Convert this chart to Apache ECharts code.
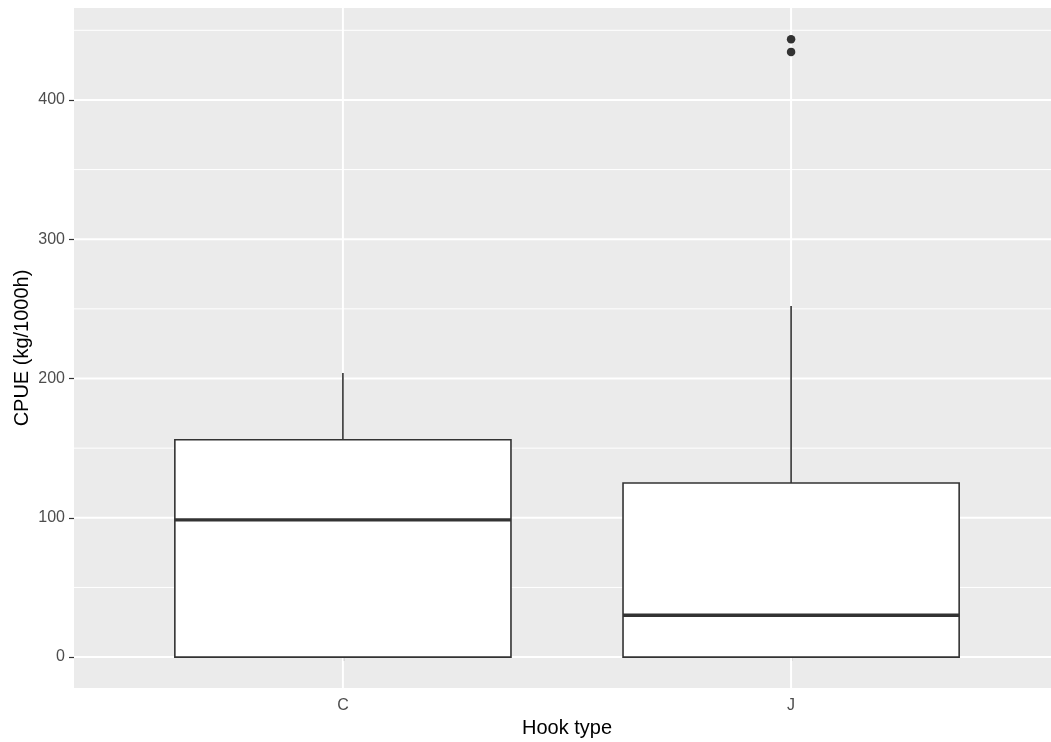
<!DOCTYPE html>
<html>
<head>
<meta charset="utf-8">
<script src="https://cdn.jsdelivr.net/npm/echarts@6/dist/echarts.min.js"></script>
<style>
html,body{margin:0;padding:0;background:#fff;}
#chart{width:1051px;height:742px;}
</style>
</head>
<body>
<div id="chart"></div>
<script>
// ---- data ----
const categories = ['C', 'J'];
const whiskerLow = [0, 0];
const q1 = [0, 0];
const median = [98.5, 30];
const q3 = [156, 125];
const whiskerHigh = [204, 252];
const outlierCategory = ['J', 'J'];
const outlierValues = [443.5, 434.5];
const yTicks = [0, 100, 200, 300, 400];
const yMinor = [50, 150, 250, 350, 450];
const xTicks = [1, 2];

// ---- build ----
const boxData = categories.map((c, i) => [i + 1, whiskerLow[i], q1[i], median[i], q3[i], whiskerHigh[i]]);
const outlierData = outlierValues.map((v, i) => [categories.indexOf(outlierCategory[i]) + 1, v]);

// grid line records: [orientation (0 = horizontal, 1 = vertical), value, major(1)/minor(0)]
const gridLineData = []
  .concat(yMinor.map(v => [0, v, 0]))
  .concat(yTicks.map(v => [0, v, 1]))
  .concat(xTicks.map(v => [1, v, 1]));

const FONT = 'Liberation Sans, Arial, Helvetica, sans-serif';
const INK = '#333333';

const chart = echarts.init(document.getElementById('chart'), null, { renderer: 'canvas' });
chart.setOption({
  animation: false,
  backgroundColor: '#ffffff',
  grid: {
    left: 74, top: 8, width: 986, height: 680,
    show: true, backgroundColor: '#EBEBEB', borderWidth: 0,
    outerBoundsMode: 'none', containLabel: false
  },
  xAxis: {
    type: 'value', min: 0.4, max: 2.6,
    name: 'Hook type', nameLocation: 'middle', nameGap: 30, nameMoveOverlap: false,
    nameTextStyle: { fontFamily: FONT, fontSize: 20, color: '#000' },
    axisLine: { show: false },
    axisTick: { show: true, length: 4, customValues: xTicks, lineStyle: { color: INK, width: 1.2 } },
    axisLabel: {
      customValues: xTicks, margin: 10,
      fontFamily: FONT, fontSize: 16, color: '#4D4D4D',
      formatter: v => categories[Math.round(v) - 1] || ''
    },
    splitLine: { show: false }
  },
  yAxis: {
    type: 'value', min: -22.2, max: 466,
    name: 'CPUE (kg/1000h)', nameLocation: 'middle', nameGap: 42, nameRotate: 90, nameMoveOverlap: false,
    nameTextStyle: { fontFamily: FONT, fontSize: 20, color: '#000' },
    axisLine: { show: false },
    axisTick: { show: true, length: 5, customValues: yTicks, lineStyle: { color: INK, width: 1.2 } },
    axisLabel: { customValues: yTicks, margin: 9, fontFamily: FONT, fontSize: 16, color: '#4D4D4D' },
    splitLine: { show: false }
  },
  series: [
    {
      type: 'custom', z: 1, silent: true, data: gridLineData,
      encode: { x: -1, y: -1 },
      clip: true,
      renderItem: function (params, api) {
        const cs = params.coordSys;
        const orient = api.value(0);
        const v = api.value(1);
        const major = api.value(2);
        const style = { stroke: '#ffffff', lineWidth: major ? 2 : 1 };
        if (orient === 0) {
          const y = api.coord([1, v])[1];
          return { type: 'line', shape: { x1: cs.x, y1: y, x2: cs.x + cs.width, y2: y }, style: style };
        }
        const x = api.coord([v, 0])[0];
        return { type: 'line', shape: { x1: x, y1: cs.y, x2: x, y2: cs.y + cs.height }, style: style };
      }
    },
    {
      type: 'custom', z: 2, data: boxData,
      encode: { x: 0, y: [1, 2, 3, 4, 5] },
      renderItem: function (params, api) {
        const x = api.value(0);
        const w = api.size([0.75, 0])[0];
        const pLow = api.coord([x, api.value(1)]);
        const pQ1 = api.coord([x, api.value(2)]);
        const pMed = api.coord([x, api.value(3)]);
        const pQ3 = api.coord([x, api.value(4)]);
        const pHigh = api.coord([x, api.value(5)]);
        const cx = pQ1[0];
        const lineStyle = { stroke: INK, lineWidth: 1.6 };
        return {
          type: 'group',
          children: [
            { type: 'line', shape: { x1: cx, y1: pQ3[1], x2: cx, y2: pHigh[1] }, style: lineStyle },
            { type: 'line', shape: { x1: cx, y1: pLow[1], x2: cx, y2: pQ1[1] }, style: lineStyle },
            { type: 'rect', shape: { x: cx - w / 2, y: pQ3[1], width: w, height: pQ1[1] - pQ3[1] },
              style: { fill: '#ffffff', stroke: INK, lineWidth: 1.6 } },
            { type: 'line', shape: { x1: cx - w / 2, y1: pMed[1], x2: cx + w / 2, y2: pMed[1] },
              style: { stroke: INK, lineWidth: 3.4 } }
          ]
        };
      }
    },
    {
      type: 'scatter', z: 3, data: outlierData,
      symbol: 'circle', symbolSize: 8.5,
      itemStyle: { color: INK, opacity: 1 }
    }
  ]
});
</script>
</body>
</html>
